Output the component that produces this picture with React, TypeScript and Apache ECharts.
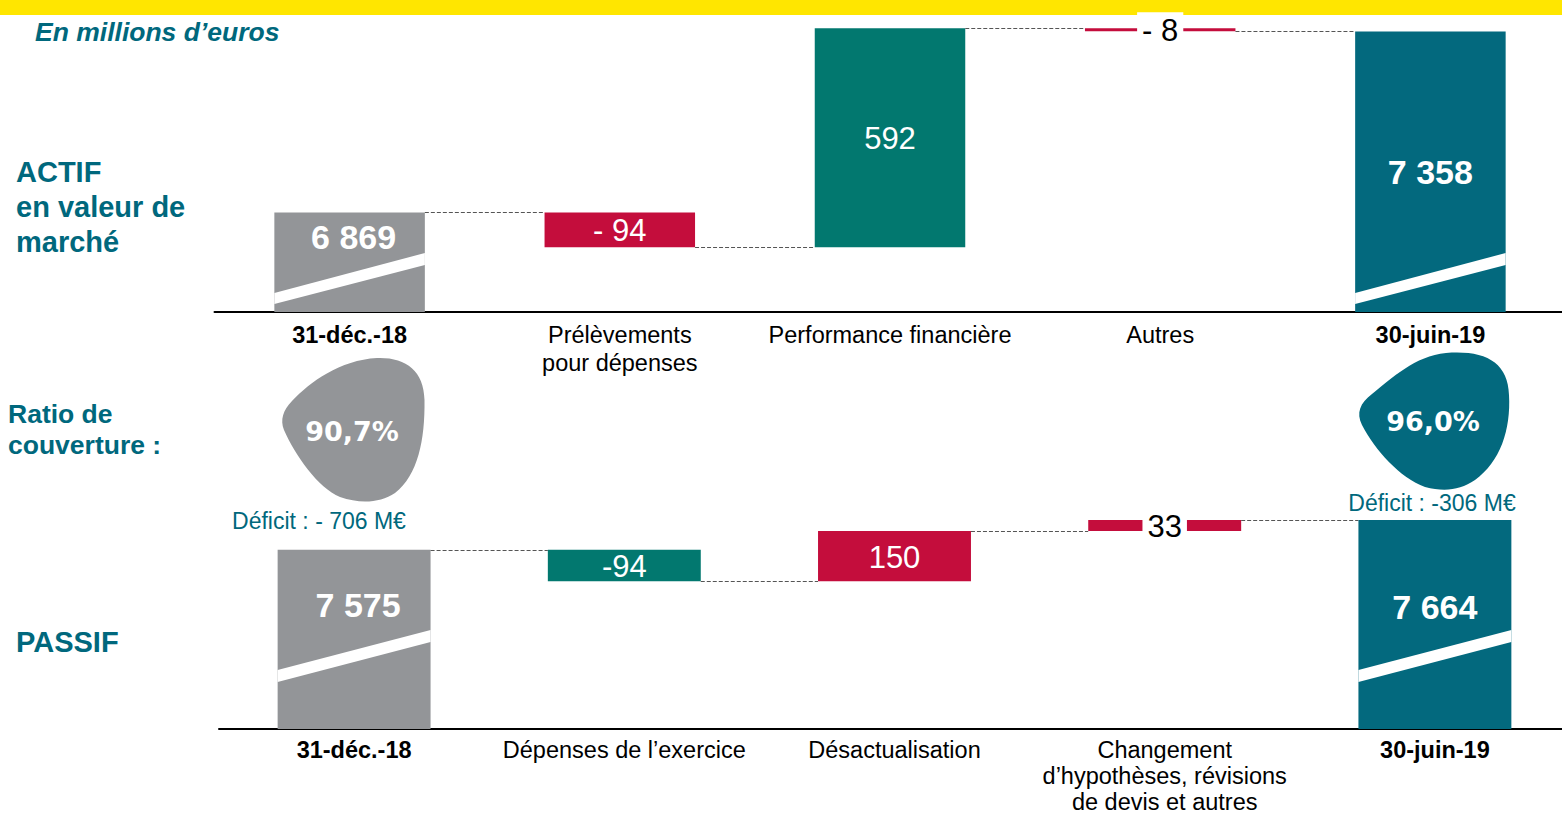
import React, { useEffect, useRef } from 'react';
import * as echarts from 'echarts';

// ---------- data ----------
const actifCategories = ['31-déc.-18', 'Prélèvements\npour dépenses', 'Performance financière', 'Autres', '30-juin-19'];
const actifValues = [6869, -94, 592, -8, 7358];
const actifLabels = ['6 869', '- 94', '592', '- 8', '7 358'];

const passifCategories = ['31-déc.-18', 'Dépenses de l’exercice', 'Désactualisation', 'Changement\nd’hypothèses, révisions\nde devis et autres', '30-juin-19'];
const passifValues = [7575, -94, 150, 33, 7664];
const passifLabels = ['7 575', '-94', '150', '33', '7 664'];

const ratioLabels = ['90,7%', '96,0%'];
const deficitLabels = ['Déficit : - 706 M€', 'Déficit : -306 M€'];

// ---------- style ----------
const YELLOW = '#FFE600';
const GRAY = '#939598';
const RED = '#C40D3C';
const GREEN = '#02786F';
const TEAL = '#03697E';
const TEXT_TEAL = '#00687D';
const FONT = '"Liberation Sans", Arial, sans-serif';

const GRAY_BLOB = 'M 377 358 C 405 357, 424 370, 424.5 400 C 425 440, 418 475, 395 493 C 380 503, 360 504, 340 497 C 318 488, 295 455, 284 430 C 280 420, 283 410, 292 401 C 310 382, 340 360, 377 358 Z';
const TEAL_BLOB = 'M 1446 353 C 1485 350, 1508 362, 1509 395 C 1511 430, 1500 462, 1475 480 C 1460 490, 1445 492, 1425 487 C 1400 478, 1375 450, 1362 425 C 1356 413, 1360 403, 1372 394 C 1392 378, 1415 356, 1446 353 Z';
echarts.graphic.registerShape('blobGray', echarts.graphic.extendPath(GRAY_BLOB, {}));
echarts.graphic.registerShape('blobTeal', echarts.graphic.extendPath(TEAL_BLOB, {}));

function buildWaterfall(values: number[]) {
  const rows: number[][] = [];
  let running = 0;
  values.forEach((v, i) => {
    const isTotal = i === 0 || i === values.length - 1;
    if (isTotal) {
      rows.push([i, 0, v, v, 1]);
      running = v;
    } else {
      const prev = running;
      running = prev + v;
      rows.push([i, Math.min(prev, running), Math.max(prev, running), running, 0]);
    }
  });
  return rows;
}

type Cfg = {
  colors: string[];
  labels: string[];
  boxed: boolean[];
  stripe: number[];
  totalRise: number[];
  totalDx: number[];
  barRatio: number;
};

const makeRenderItem = (cfg: Cfg) => (params: any, api: any) => {
  const i = api.value(0);
  const low = api.value(1);
  const high = api.value(2);
  const level = api.value(3);
  const isTotal = api.value(4) === 1;
  const cs = params.coordSys;
  const bottom = cs.y + cs.height;
  const slot = api.size([1, 0])[0];
  const w = slot * cfg.barRatio;
  const topPt = api.coord([i, high]);
  const cx = topPt[0];
  const yTop = topPt[1];
  const yBot = Math.min(api.coord([i, low])[1], bottom);
  const x0 = cx - w / 2;
  const x1 = cx + w / 2;
  const children: any[] = [
    { type: 'rect', shape: { x: x0, y: yTop, width: w, height: Math.max(yBot - yTop, 1) }, style: { fill: cfg.colors[i] } },
  ];
  const n = cfg.labels.length;
  if (isTotal) {
    const s = cfg.stripe;
    children.push({
      type: 'polygon',
      shape: { points: [[x0, bottom - s[0]], [x1, bottom - s[2]], [x1, bottom - s[3]], [x0, bottom - s[1]]] },
      style: { fill: '#ffffff' },
    });
  }
  if (i < n - 1) {
    const ly = Math.round(api.coord([i, level])[1]) + 0.5;
    children.push({
      type: 'line',
      shape: { x1: x1, y1: ly, x2: cx + slot - w / 2, y2: ly },
      style: { stroke: '#555555', lineWidth: 1, lineDash: [4, 2] },
    });
  }
  if (isTotal) {
    const k = i === 0 ? 0 : 1;
    children.push({
      type: 'text', x: cx + cfg.totalDx[k], y: bottom - cfg.totalRise[k], z2: 10,
      style: { text: cfg.labels[i], fill: '#ffffff', fontSize: 34, fontWeight: 'bold', fontFamily: FONT, align: 'center', verticalAlign: 'middle' },
    });
  } else if (cfg.boxed[i]) {
    children.push({
      type: 'text', x: cx, y: (yTop + yBot) / 2 + 1, z2: 10,
      style: { text: cfg.labels[i], fill: '#000000', fontSize: 31, fontFamily: FONT, align: 'center', verticalAlign: 'middle', backgroundColor: '#ffffff', padding: [4, 5, 2, 5] },
    });
  } else {
    children.push({
      type: 'text', x: cx, y: (yTop + yBot) / 2 + 1, z2: 10,
      style: { text: cfg.labels[i], fill: '#ffffff', fontSize: 31, fontFamily: FONT, align: 'center', verticalAlign: 'middle' },
    });
  }
  return { type: 'group', children };
};

const makeRich = (lineHeight: number) => ({
  b: { fontFamily: FONT, fontSize: 23.5, fontWeight: 'bold', color: '#000', lineHeight },
  n: { fontFamily: FONT, fontSize: 23.5, color: '#000', lineHeight },
});
const catFormatter = (value: string, index: number) => {
  const tag = index === 0 || index === 4 ? 'b' : 'n';
  return value.split('\n').map((l) => `{${tag}|${l}}`).join('\n');
};

const makeXAxis = (gridIndex: number, data: string[], margin: number, lineHeight: number) => ({
  type: 'category',
  gridIndex,
  data,
  axisLine: { onZero: false, lineStyle: { color: '#000', width: 2 } },
  axisTick: { show: false },
  splitLine: { show: false },
  axisLabel: { interval: 0, margin, formatter: catFormatter, rich: makeRich(lineHeight) },
});

const leftText = (text: string, x: number, y: number, size: number, lineHeight: number, extra: any = {}) => ({
  type: 'text', x, y, z: 3,
  style: { text, fill: TEXT_TEAL, fontSize: size, fontWeight: 'bold', fontFamily: FONT, lineHeight, align: 'left', verticalAlign: 'middle', textAlign: 'left', textVerticalAlign: 'middle', ...extra },
});
const centerText = (text: string, x: number, y: number, size: number, fill: string, weight: string, family: string) => ({
  type: 'text', x, y, z: 3,
  style: { text, fill, fontSize: size, fontWeight: weight, fontFamily: family, align: 'center', verticalAlign: 'middle', textAlign: 'center', textVerticalAlign: 'middle' },
});

export default function App() {
  const ref = useRef<HTMLDivElement>(null);
  useEffect(() => {
    if (!ref.current) return;
    const chart = echarts.init(ref.current, null, { renderer: 'svg' });
    const option: any = {
      animation: false,
      backgroundColor: '#ffffff',
      grid: [
        { left: 214.5, top: 16, width: 1351, height: 296, outerBoundsMode: 'none', containLabel: false },
        { left: 219, top: 508, width: 1351, height: 221, outerBoundsMode: 'none', containLabel: false },
      ],
      xAxis: [makeXAxis(0, actifCategories, 9, 28), makeXAxis(1, passifCategories, 8, 26)],
      yAxis: [
        { type: 'value', gridIndex: 0, min: 6600, max: 7400, show: false, splitLine: { show: false } },
        { type: 'value', gridIndex: 1, min: 7040, max: 7700, show: false, splitLine: { show: false } },
      ],
      series: [
        {
          type: 'custom', name: 'Actif', xAxisIndex: 0, yAxisIndex: 0, z: 5,
          encode: { x: 0, y: [1, 2] },
          data: buildWaterfall(actifValues),
          renderItem: makeRenderItem({
            colors: [GRAY, RED, GREEN, RED, TEAL],
            labels: actifLabels,
            boxed: [false, false, false, true, false],
            stripe: [8, 19, 47, 59],
            totalRise: [75, 140],
            totalDx: [4, 0],
            barRatio: 0.557,
          }),
        },
        {
          type: 'custom', name: 'Passif', xAxisIndex: 1, yAxisIndex: 1, z: 5,
          encode: { x: 0, y: [1, 2] },
          data: buildWaterfall(passifValues),
          renderItem: makeRenderItem({
            colors: [GRAY, GREEN, RED, RED, TEAL],
            labels: passifLabels,
            boxed: [false, false, false, true, false],
            stripe: [47, 59, 87, 99],
            totalRise: [124, 122],
            totalDx: [4, 0],
            barRatio: 0.566,
          }),
        },
      ],
      graphic: [
        { type: 'rect', z: 0, shape: { x: 0, y: 0, width: 1600, height: 15 }, style: { fill: YELLOW } },
        leftText('En millions d’euros', 35, 32, 26.5, 30, { fontStyle: 'italic' }),
        leftText('ACTIF\nen valeur de\nmarché', 16, 207, 29, 35),
        leftText('Ratio de\ncouverture :', 8, 429, 26.5, 31),
        leftText('PASSIF', 16, 642, 29, 30),
        { type: 'blobGray', z: 2, style: { fill: GRAY } },
        { type: 'blobTeal', z: 2, style: { fill: TEAL } },
        centerText(ratioLabels[0], 352, 431, 27, '#ffffff', 'bold', '"DejaVu Sans", sans-serif'),
        centerText(ratioLabels[1], 1433, 421, 27, '#ffffff', 'bold', '"DejaVu Sans", sans-serif'),
        centerText(deficitLabels[0], 319, 521, 23, TEXT_TEAL, 'normal', FONT),
        centerText(deficitLabels[1], 1432, 503, 23, TEXT_TEAL, 'normal', FONT),
      ],
    };
    chart.setOption(option);
    return () => chart.dispose();
  }, []);
  return (
    <div style={{ position: 'absolute', left: 0, top: 0, width: 1562, height: 816, overflow: 'hidden' }}>
      <div ref={ref} style={{ width: 1600, height: 816 }} />
    </div>
  );
}
